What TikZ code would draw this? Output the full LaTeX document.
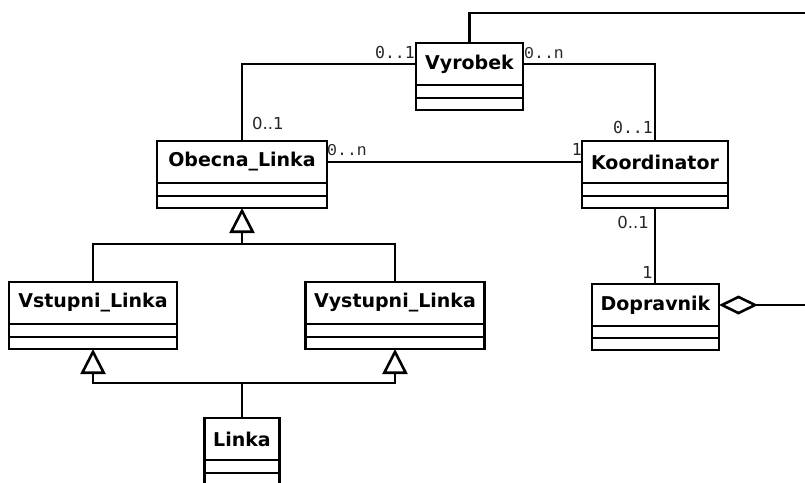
\documentclass[tikz,border=0pt]{standalone}
\usepackage{fontspec}
\setsansfont{DejaVu Sans}
\newfontfamily\multmono{DejaVu Sans Mono}
\newfontfamily\multcour{Liberation Mono}
\usetikzlibrary{positioning,arrows.meta}
\tikzset{every picture/.style={/utils/exec={\sffamily}}}
\tikzset{
	classname/.style={draw, line width=2.6pt, inner sep=0pt, outer sep=0pt, minimum height=42pt, font=\sffamily\bfseries\fontsize{19}{21}\selectfont},
	classpart/.style={draw, line width=2.6pt, inner sep=0pt, outer sep=0pt, minimum height=#1},
	assoc/.style={line width=2.6pt},
	mult/.style={inner sep=0pt, text=black!85, font=\fontsize{16.5}{18}\selectfont},
	gen/.style={-{Triangle[open,length=25pt,width=25pt]}},
	aggr/.style={{Diamond[open,length=39pt,width=19pt]}-}
}

\begin{document}
\begin{tikzpicture}[x=1pt, y=-1pt]
	\useasboundingbox (0,0) rectangle (805,482);
	\clip (0,0) rectangle (805,482);

	% classes
	\node[classname, minimum width=107pt] (vyrobek) at (469.5,64) {Vyrobek};
	\node[classpart=13pt, minimum width=107pt, below=0pt of vyrobek] (vyrobekA) {};
	\node[classpart=12pt, minimum width=107pt, below=0pt of vyrobekA] (vyrobekB) {};

	\node[classname, minimum width=170pt] (obecna) at (242,162) {Obecna\_Linka};
	\node[classpart=13pt, minimum width=170pt, below=0pt of obecna] (obecnaA) {};
	\node[classpart=12pt, minimum width=170pt, below=0pt of obecnaA] (obecnaB) {};

	\node[classname, minimum width=146pt] (koordinator) at (655,162) {Koordinator};
	\node[classpart=13pt, minimum width=146pt, below=0pt of koordinator] (koordinatorA) {};
	\node[classpart=12pt, minimum width=146pt, below=0pt of koordinatorA] (koordinatorB) {};

	\node[classname, minimum width=127pt] (dopravnik) at (655.5,305) {Dopravnik};
	\node[classpart=12pt, minimum width=127pt, below=0pt of dopravnik] (dopravnikA) {};
	\node[classpart=12pt, minimum width=127pt, below=0pt of dopravnikA] (dopravnikB) {};

	\node[classname, minimum width=168pt] (vstupni) at (93,303) {Vstupni\_Linka};
	\node[classpart=13pt, minimum width=168pt, below=0pt of vstupni] (vstupniA) {};
	\node[classpart=12pt, minimum width=168pt, below=0pt of vstupniA] (vstupniB) {};

	\node[classname, minimum width=179pt] (vystupni) at (395,303) {Vystupni\_Linka};
	\node[classpart=13pt, minimum width=179pt, below=0pt of vystupni] (vystupniA) {};
	\node[classpart=12pt, minimum width=179pt, below=0pt of vystupniA] (vystupniB) {};

	\node[classname, minimum width=75pt] (linka) at (242,439) {Linka};
	\node[classpart=13pt, minimum width=75pt, below=0pt of linka] (linkaA) {};
	\node[classpart=16pt, minimum width=75pt, below=0pt of linkaA] (linkaB) {};

	% associations
	\coordinate (topEnd) at (810,13);
	\coordinate (rightEnd) at (810,305);
	\draw[assoc] (vyrobek.north) |- (topEnd);
	\draw[assoc] (vyrobek.west) -| (obecna.north);
	\draw[assoc] (vyrobek.east) -| (koordinator.north);
	\draw[assoc] (obecna.east) -- (koordinator.west);
	\draw[assoc] (koordinatorB.south) -- (koordinatorB.south |- dopravnik.north);
	\draw[assoc, aggr] (dopravnik.east) -- (rightEnd);

	% generalization
	\coordinate (genTop) at (242,244);
	\coordinate (genBot) at (242,383);
	\draw[assoc] (vstupni.north) |- (genTop) -| (vystupni.north);
	\draw[assoc, gen] (genTop) -- (obecnaB.south);
	\draw[assoc, gen] (genBot) -| (vstupniB.south);
	\draw[assoc, gen] (genBot) -| (vystupniB.south);
	\draw[assoc] (linka.north) -- (genBot);

	% multiplicities
	\node[mult, anchor=base east] (m1) at (415,58) {\multmono 0..1};
	\node[mult, anchor=base west] (m2) at (524,58) {\multcour 0..n};
	\node[mult, anchor=base west] (m3) at (252,129) {0..1};
	\node[mult, anchor=base east] (m4) at (653,133) {\multmono 0..1};
	\node[mult, anchor=base west] (m5) at (327,155) {\multcour 0..n};
	\node[mult, anchor=base east] (m6) at (582,155) {\multmono 1};
	\node[mult, anchor=base east] (m7) at (649,228) {0..1};
	\node[mult, anchor=base east] (m8) at (653,278) {1};
\end{tikzpicture}
\end{document}
